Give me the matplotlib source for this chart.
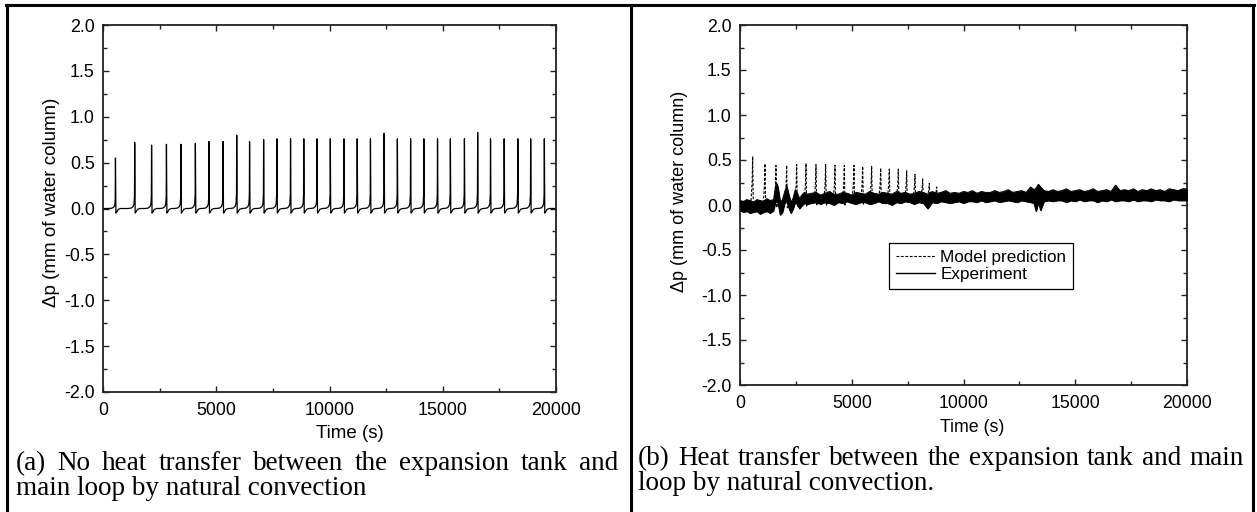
import matplotlib
matplotlib.use("Agg")
import matplotlib.pyplot as plt
from matplotlib.lines import Line2D
from matplotlib.ticker import MultipleLocator

W, H = 1257, 512

# --- (a) no heat transfer: spike times (s) and peak heights (mm) ---------- #
a_peak_t = [550, 1400, 2145, 2801, 3440, 4078, 4681, 5301, 5904, 6471, 7092,
            7677, 8280, 8865, 9450, 10035, 10638, 11223, 11808, 12411, 12996,
            13581, 14166, 14769, 15336, 15957, 16542, 17109, 17712, 18315,
            18882, 19485]
a_peak_v = [0.55, 0.72, 0.69, 0.70, 0.70, 0.71, 0.73, 0.73, 0.80, 0.73, 0.75,
            0.76, 0.76, 0.76, 0.76, 0.76, 0.76, 0.76, 0.76, 0.82, 0.76, 0.76,
            0.76, 0.76, 0.76, 0.76, 0.83, 0.76, 0.76, 0.76, 0.76, 0.76]
# one spike: offsets (s), rise as fraction of the peak,
# then the undershoot after it (mm)
a_rise_dt = [-300, -150, -70, -30, -10, 0]
a_rise_frac = [0.0, 0.007, 0.03, 0.07, 0.2, 1.0]
a_tail_dt = [20, 50, 120, 220]
a_tail_v = [-0.05, -0.04, -0.01, 0.0]

# --- (b) model prediction: spike times, peaks, and level at their feet ---- #
b_peak_t = [567, 1118, 1610, 2088, 2536, 2953, 3400, 3833, 4250, 4667, 5100,
            5489, 5891, 6295, 6680, 7083, 7458, 7830, 8174, 8470, 8800, 9100]
b_peak_v = [0.54, 0.46, 0.44, 0.44, 0.45, 0.46, 0.45, 0.45, 0.44, 0.44, 0.44,
            0.43, 0.43, 0.41, 0.40, 0.40, 0.38, 0.34, 0.29, 0.24, 0.20, 0.16]
b_base_v = [0.02, 0.02, 0.03, 0.03, 0.04, 0.04, 0.05, 0.05, 0.06, 0.06, 0.07,
            0.07, 0.07, 0.08, 0.08, 0.08, 0.09, 0.09, 0.09, 0.10, 0.10, 0.10]
b_rise_dt = [-80, -25, 0]
b_rise_frac = [0.0, 0.45, 1.0]
b_tail_dt = [30, 80]
b_tail_dv = [-0.06, 0.0]
b_end_t = [9500, 12000, 16000, 20000]
b_end_v = [0.10, 0.11, 0.11, 0.12]

# --- (b) experiment: upper / lower edge of the noisy trace ---------------- #
exp_t = [0, 150, 300, 450, 600, 750, 900, 1050, 1200, 1350, 1500, 1620, 1700,
         1800, 1900, 2000, 2090, 2180, 2280, 2380, 2470, 2560, 2660, 2760,
         2880, 3000, 3200, 3400, 3600, 3800, 4000, 4200, 4400, 4600, 4800,
         5000, 5200, 5400, 5600, 5800, 6000, 6200, 6400, 6600, 6800, 7000,
         7200, 7400, 7600, 7800, 8000, 8200, 8400, 8600, 8800, 9000, 9200,
         9400, 9600, 9800, 10000, 10200, 10400, 10600, 10800, 11000, 11200,
         11400, 11600, 11800, 12000, 12200, 12400, 12600, 12800, 13000, 13150,
         13250, 13350, 13450, 13600, 13800, 14000, 14200, 14400, 14600, 14800,
         15000, 15200, 15400, 15600, 15800, 16000, 16200, 16400, 16600, 16800,
         17000, 17200, 17400, 17600, 17800, 18000, 18200, 18400, 18600, 18800,
         19000, 19200, 19400, 19600, 19800, 20000]
exp_hi = [0.05, 0.04, 0.06, 0.05, 0.03, 0.06, 0.05, 0.04, 0.07, 0.05, 0.06,
          0.25, 0.20, 0.03, 0.06, 0.15, 0.21, 0.12, 0.03, 0.08, 0.17, 0.13,
          0.07, 0.11, 0.14, 0.12, 0.13, 0.14, 0.11, 0.13, 0.15, 0.12, 0.12,
          0.14, 0.13, 0.11, 0.14, 0.13, 0.12, 0.15, 0.13, 0.12, 0.14, 0.13,
          0.12, 0.15, 0.13, 0.14, 0.12, 0.13, 0.15, 0.14, 0.12, 0.15, 0.13,
          0.14, 0.16, 0.13, 0.14, 0.13, 0.15, 0.14, 0.16, 0.13, 0.15, 0.14,
          0.14, 0.16, 0.14, 0.15, 0.17, 0.14, 0.15, 0.16, 0.14, 0.20, 0.17,
          0.19, 0.23, 0.20, 0.16, 0.15, 0.17, 0.15, 0.16, 0.18, 0.15, 0.16,
          0.17, 0.15, 0.16, 0.18, 0.15, 0.16, 0.17, 0.15, 0.22, 0.16, 0.17,
          0.16, 0.18, 0.15, 0.17, 0.16, 0.18, 0.16, 0.17, 0.15, 0.18, 0.17,
          0.16, 0.18, 0.18]
exp_lo = [-0.06, -0.08, -0.07, -0.09, -0.08, -0.07, -0.10, -0.08, -0.07, -0.09,
          -0.06, 0.06, 0.02, -0.11, -0.08, 0.02, 0.05, -0.03, -0.09, -0.04,
          0.03, 0.01, -0.04, -0.01, 0.02, 0.01, 0.02, 0.03, 0.01, 0.03, 0.02,
          0.00, 0.03, 0.02, 0.04, 0.02, 0.01, 0.03, 0.03, 0.01, 0.02, 0.04,
          0.02, 0.02, 0.00, 0.03, 0.02, 0.04, 0.03, 0.01, 0.03, 0.02, -0.04,
          0.03, 0.02, 0.04, 0.03, 0.02, 0.03, 0.04, 0.02, 0.04, 0.04, 0.03,
          0.05, 0.03, 0.04, 0.05, 0.03, 0.04, 0.05, 0.04, 0.03, 0.05, 0.04,
          0.03, 0.02, -0.07, 0.03, -0.06, 0.04, 0.05, 0.04, 0.05, 0.05, 0.03,
          0.05, 0.04, 0.06, 0.04, 0.05, 0.05, 0.03, 0.05, 0.04, 0.06, 0.04,
          0.05, 0.05, 0.04, 0.06, 0.04, 0.05, 0.05, 0.04, 0.06, 0.05, 0.05,
          0.04, 0.06, 0.05, 0.05, 0.05]

x_ticks = [0, 5000, 10000, 15000, 20000]
y_ticks = [-2.0, -1.5, -1.0, -0.5, 0.0, 0.5, 1.0, 1.5, 2.0]

caption_a = ["(a) No heat transfer between the expansion tank and",
             "main loop by natural convection"]
caption_b = ["(b) Heat transfer between the expansion tank and main",
             "loop by natural convection."]

SANS = "Liberation Sans"
SERIF = "Liberation Serif"


def build_a():
    t, v = [0.0], [0.0]
    for pt, pv in zip(a_peak_t, a_peak_v):
        t += [pt + d for d in a_rise_dt] + [pt + d for d in a_tail_dt]
        v += [pv * f for f in a_rise_frac] + list(a_tail_v)
    t.append(20000)
    v.append(0.0)
    return t, v


def build_b_model():
    t, v = [0.0], [b_base_v[0]]
    for pt, pv, base in zip(b_peak_t, b_peak_v, b_base_v):
        t += [pt + d for d in b_rise_dt] + [pt + d for d in b_tail_dt]
        v += [base + (pv - base) * f for f in b_rise_frac]
        v += [base + d for d in b_tail_dv]
    return t + b_end_t, v + b_end_v


def style_axes(ax, tick_fs):
    ax.set_xlim(0, 20000)
    ax.set_ylim(-2.0, 2.0)
    ax.set_xticks(x_ticks)
    ax.set_yticks(y_ticks)
    ax.set_yticklabels([f"{y:.1f}" for y in y_ticks])
    ax.xaxis.set_minor_locator(MultipleLocator(2500))
    ax.yaxis.set_minor_locator(MultipleLocator(0.25))
    ax.tick_params(which="both", direction="in", top=True, right=True,
                   width=1.0, color="#222222")
    ax.tick_params(which="major", length=4.5)
    ax.tick_params(which="minor", length=3)
    ax.tick_params(axis="y", pad=6)
    ax.tick_params(axis="x", pad=7)
    for lab in ax.get_xticklabels() + ax.get_yticklabels():
        lab.set_fontfamily(SANS)
        lab.set_fontsize(tick_fs)
    for s in ax.spines.values():
        s.set_linewidth(1.3)
        s.set_color("#222222")


def px(x, y):
    return x / W, 1 - y / H


def justified(fig, renderer, line, x0, x1, y, fs):
    words = line.split()
    arts = [fig.text(0, 0, w, fontsize=fs, family=SERIF, va="baseline")
            for w in words]
    widths = [a.get_window_extent(renderer).width for a in arts]
    gap = (x1 - x0 - sum(widths)) / (len(words) - 1)
    x = x0
    for a, w in zip(arts, widths):
        a.set_position(px(x, y))
        x += w + gap


fig = plt.figure(figsize=(W / 100, H / 100), dpi=100)

ax_a = fig.add_axes([103 / W, 1 - 392 / H, (556 - 103) / W, (392 - 25) / H])
t_a, v_a = build_a()
ax_a.plot(t_a, v_a, color="black", lw=0.9)
style_axes(ax_a, 12.9)

ax_b = fig.add_axes([740 / W, 1 - 385 / H, (1187 - 740) / W, (385 - 25) / H])
t_m, v_m = build_b_model()
ax_b.plot(t_m, v_m, color="black", lw=0.8, dashes=(2.5, 1.5), zorder=2)
ax_b.fill_between(exp_t, exp_lo, exp_hi, color="black", lw=0.6, zorder=3)
ax_b.plot(exp_t, exp_hi, color="black", lw=0.7, zorder=3)
ax_b.plot(exp_t, exp_lo, color="black", lw=0.7, zorder=3)
style_axes(ax_b, 12.7)

handles = [Line2D([], [], color="black", lw=0.8, dashes=(2.5, 1.5)),
           Line2D([], [], color="black", lw=1.0)]
leg = ax_b.legend(handles, ["Model prediction", "Experiment"],
                  loc="upper left", bbox_to_anchor=px(889, 243),
                  bbox_transform=fig.transFigure, borderaxespad=0,
                  fancybox=False, framealpha=1, edgecolor="black",
                  prop={"family": SANS, "size": 12.3}, handlelength=2.3,
                  handletextpad=0.3, borderpad=0.4, labelspacing=0.15)
leg.get_frame().set_linewidth(0.9)

# axis titles
fig.text(*px(350, 433), "Time (s)", ha="center", va="center",
         family=SANS, fontsize=13.5)
fig.text(*px(52, 202), "\u0394p (mm of water column)", ha="center",
         va="center", rotation=90, family=SANS, fontsize=13.5)
fig.text(*px(972, 427), "Time (s)", ha="center", va="center",
         family=SANS, fontsize=12.8)
fig.text(*px(680, 191), "\u0394p (mm of water column)", ha="center",
         va="center", rotation=90, family=SANS, fontsize=13.0)

# captions (first lines justified like the source table)
renderer = fig.canvas.get_renderer()
justified(fig, renderer, caption_a[0], 16, 618, 470, 19.5)
fig.text(*px(16, 495), caption_a[1], family=SERIF, fontsize=19.5,
         va="baseline")
justified(fig, renderer, caption_b[0], 638, 1244, 465, 19.5)
fig.text(*px(638, 490), caption_b[1], family=SERIF, fontsize=19.5,
         va="baseline")

# table borders
for xs, ys in [((6, 1254), (5, 5)), ((7, 7), (5, 512)),
               ((631, 631), (5, 512)), ((1253, 1253), (5, 512))]:
    fig.add_artist(Line2D([x / W for x in xs], [1 - y / H for y in ys],
                          transform=fig.transFigure, color="black", lw=2.2))

fig.savefig("out.png", dpi=100)
